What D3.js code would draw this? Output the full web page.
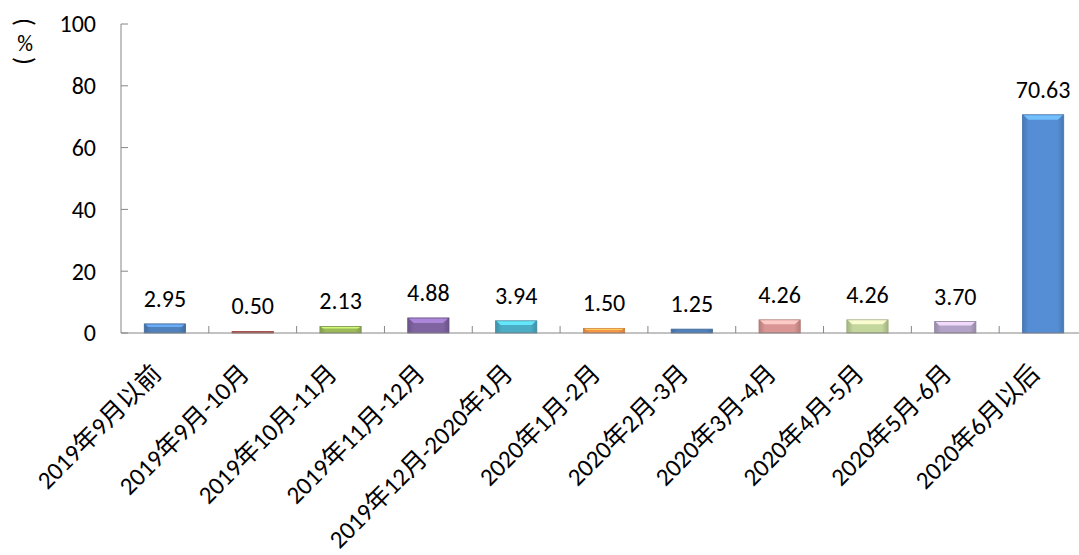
<!DOCTYPE html>
<html><head><meta charset="utf-8">
<script src="https://cdn.jsdelivr.net/npm/d3@7"></script>
<style>body{margin:0;background:#fff;} svg{display:block;}</style>
</head><body>
<svg id="c" width="1079" height="555"></svg>
<script>
const categories = ["2019年9月以前","2019年9月-10月","2019年10月-11月","2019年11月-12月","2019年12月-2020年1月","2020年1月-2月","2020年2月-3月","2020年3月-4月","2020年4月-5月","2020年5月-6月","2020年6月以后"];
const values = [2.95,0.50,2.13,4.88,3.94,1.50,1.25,4.26,4.26,3.70,70.63];
const colors = ["#4f81bd","#c0504d","#9bbb59","#8064a2","#4bacc6","#f79646","#4f81bd","#d99694","#c3d69b","#b3a2c7","#558ed5"];
const yTicks = [0,20,40,60,80,100];

const svg = d3.select("#c");
const font = "Carlito, Calibri, 'Noto Sans CJK SC', sans-serif";
const x = d3.scaleBand().domain(categories).range([121, 1087]).paddingInner(0.53).paddingOuter(0.265);
const y = d3.scaleLinear().domain([0,100]).range([333, 24]);

const defs = svg.append("defs");
colors.forEach((c,i)=>{
  const g = defs.append("linearGradient").attr("id","g"+i).attr("x1","0").attr("x2","1").attr("y1","0").attr("y2","0");
  g.append("stop").attr("offset","0").attr("stop-color",d3.color(c).darker(0.5));
  g.append("stop").attr("offset","0.15").attr("stop-color",c);
  g.append("stop").attr("offset","0.85").attr("stop-color",c);
  g.append("stop").attr("offset","1").attr("stop-color",d3.color(c).darker(0.5));
});

// bars
const bars = svg.append("g");
categories.forEach((cat,i)=>{
  const bx = x(cat), bw = x.bandwidth(), top = y(values[i]), h = y(0)-top;
  bars.append("rect").attr("x",bx).attr("y",top).attr("width",bw).attr("height",h)
    .attr("fill","url(#g"+i+")").attr("stroke",d3.color(colors[i]).darker(0.6)).attr("stroke-width",0.8);
  if (h > 4) {
    const inset = Math.min(5, h/3);
    bars.append("path").attr("d",`M${bx+1},${top+0.5} L${bx+bw-1},${top+0.5} L${bx+bw-inset-1},${top+inset} L${bx+inset+1},${top+inset} Z`)
      .attr("fill",d3.color(colors[i]).brighter(0.9)).attr("opacity",0.9);
  }
});

// axes
const ax = svg.append("g").attr("stroke","#868686").attr("fill","none");
ax.append("line").attr("x1",121).attr("x2",121).attr("y1",y(100)).attr("y2",y(0));
ax.append("line").attr("x1",121).attr("x2",1087).attr("y1",y(0)).attr("y2",y(0));
yTicks.forEach(t=>{
  ax.append("line").attr("x1",121).attr("x2",128).attr("y1",y(t)).attr("y2",y(t));
});
categories.forEach((cat,i)=>{
  const tx = x(cat) + x.bandwidth()/2 + x.step()/2;
  ax.append("line").attr("x1",tx).attr("x2",tx).attr("y1",y(0)).attr("y2",y(0)-7);
});

// y tick labels
svg.append("g").selectAll("text").data(yTicks).join("text")
  .attr("x",96).attr("y",d=>y(d)).attr("dy","0.35em").attr("text-anchor","end")
  .attr("font-family",font).attr("font-size",24).attr("fill","#000").text(d=>d);

// value labels
svg.append("g").selectAll("text").data(values).join("text")
  .attr("x",(d,i)=>x(categories[i])+x.bandwidth()/2).attr("y",d=>y(d)-17)
  .attr("text-anchor","middle").attr("font-family",font).attr("font-size",24).attr("fill","#000")
  .text(d=>d.toFixed(2));

// category labels
svg.append("g").selectAll("text").data(categories).join("text")
  .attr("transform",d=>`translate(${x(d)+x.bandwidth()/2-2},${y(0)+42}) rotate(-45)`)
  .attr("text-anchor","end").attr("font-family",font).attr("font-size",25).attr("fill","#000")
  .text(d=>d);

// unit label (vertical)
const ul = svg.append("g").attr("font-family",font).attr("font-size",26).attr("fill","#000");
ul.append("text").attr("transform","translate(24,22) rotate(90)").attr("text-anchor","middle").attr("dy","0.32em").text("(");
ul.append("text").attr("x",25).attr("y",43).attr("text-anchor","middle").attr("dy","0.35em").attr("font-size",22).text("%");
ul.append("text").attr("transform","translate(24,61) rotate(90)").attr("text-anchor","middle").attr("dy","0.32em").text(")");
</script>
</body></html>
